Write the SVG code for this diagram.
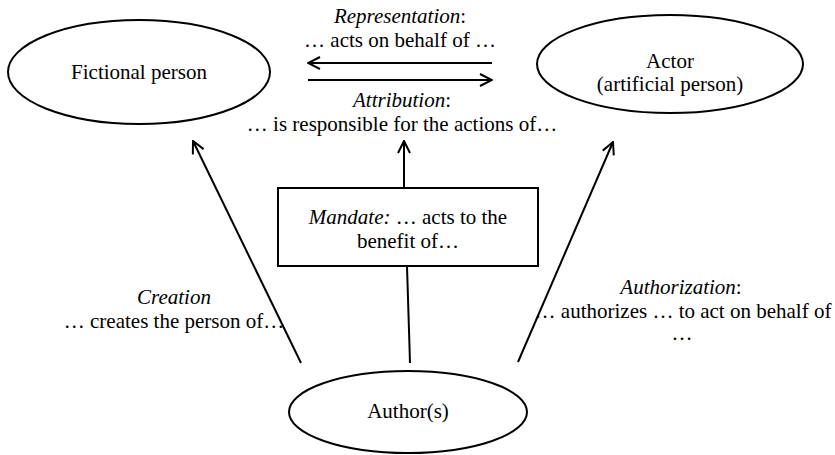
<svg xmlns="http://www.w3.org/2000/svg" width="835" height="455" viewBox="0 0 835 455">
<style>
.t{font-family:"Liberation Serif","Times New Roman",serif;font-size:21px;fill:#000;text-anchor:middle}
.i{font-style:italic}
.s{fill:#fff;stroke:#000;stroke-width:2}
.c{fill:none;stroke:#000;stroke-width:2}
</style>
<defs>
<marker id="ah" markerUnits="userSpaceOnUse" viewBox="0 0 14 14" refX="13" refY="7" markerWidth="14" markerHeight="14" orient="auto">
<path d="M1,1 L13,7 L1,13" fill="none" stroke="#000" stroke-width="2"/>
</marker>
</defs>
<rect width="835" height="455" fill="#fff"/>
<g id="connectors">
<line class="c" x1="492" y1="63" x2="308" y2="63" marker-end="url(#ah)"/>
<line class="c" x1="308" y1="80" x2="492" y2="80" marker-end="url(#ah)"/>
<line class="c" x1="404" y1="188" x2="404" y2="141" marker-end="url(#ah)"/>
<line class="c" x1="410" y1="363" x2="407" y2="266"/>
<line class="c" x1="301" y1="363" x2="193" y2="141" marker-end="url(#ah)"/>
<line class="c" x1="518" y1="362" x2="613" y2="142" marker-end="url(#ah)"/>
<text class="t" x="400" y="23"><tspan class="i">Representation</tspan>:</text>
<text class="t" x="400" y="47">… acts on behalf of …</text>
<text class="t" x="402" y="107"><tspan class="i">Attribution</tspan>:</text>
<text class="t" x="402" y="131">… is responsible for the actions of…</text>
<text class="t i" x="174" y="304">Creation</text>
<text class="t" x="174" y="328">… creates the person of…</text>
<text class="t" x="681" y="294"><tspan class="i">Authorization</tspan>:</text>
<text class="t" x="683" y="318">… authorizes … to act on behalf of</text>
<text class="t" x="682" y="340">…</text>
</g>
<g id="fictional">
<ellipse class="s" cx="139" cy="72" rx="131" ry="52"/>
<text class="t" x="139" y="79">Fictional person</text>
</g>
<g id="actor">
<ellipse class="s" cx="670" cy="64" rx="133" ry="49"/>
<text class="t" x="670" y="68">Actor</text>
<text class="t" x="670" y="91">(artificial person)</text>
</g>
<g id="mandate">
<rect class="s" x="278" y="188" width="260" height="78"/>
<text class="t" x="408" y="224"><tspan class="i">Mandate:</tspan> … acts to the</text>
<text class="t" x="408" y="248">benefit of…</text>
</g>
<g id="author">
<ellipse class="s" cx="408" cy="412" rx="119" ry="41"/>
<text class="t" x="408" y="418">Author(s)</text>
</g>
</svg>
